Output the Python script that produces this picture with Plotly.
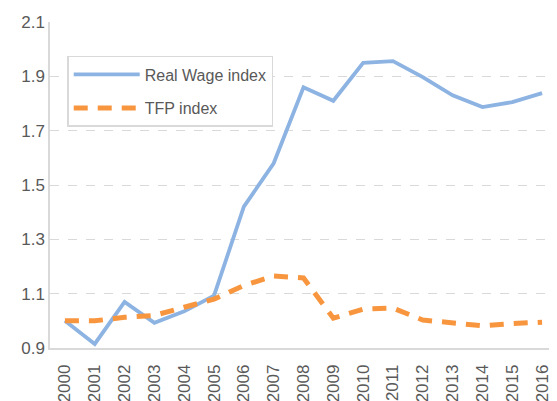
import plotly.graph_objects as go

years = [str(y) for y in range(2000, 2017)]
real_wage = [1.0, 0.915, 1.07, 0.993, 1.035, 1.093, 1.42, 1.58, 1.86, 1.81, 1.95, 1.956, 1.897, 1.83, 1.787, 1.805, 1.838]
tfp = [1.0, 1.0, 1.013, 1.02, 1.05, 1.08, 1.13, 1.165, 1.158, 1.01, 1.043, 1.047, 1.003, 0.992, 0.982, 0.99, 0.995]
y_ticks = [0.9, 1.1, 1.3, 1.5, 1.7, 1.9, 2.1]

FONT = "Liberation Sans Narrow, Arial Narrow, Liberation Sans, sans-serif"
GRAY = "#595959"

fig = go.Figure()
fig.add_trace(go.Scatter(x=years, y=real_wage, mode="lines", name="Real Wage index",
                         legendgroup="a",
                         line=dict(color="#8DB3E2", width=3.8)))
fig.add_trace(go.Scatter(x=years, y=tfp, mode="lines", name="TFP index",
                         legendgroup="b",
                         line=dict(color="#F8963F", width=5, dash="14px,10px")))

# page body has an 8px default margin; margins compensate so the plot area
# sits at x 50..557, y 22..348 in the window
fig.update_layout(
    width=557, height=401,
    margin=dict(l=42, r=8, t=14, b=61, autoexpand=False),
    paper_bgcolor="white", plot_bgcolor="white",
    font=dict(family=FONT, color=GRAY, size=16),
    showlegend=True,
    legend=dict(x=0.034, y=0.896, xanchor="left", yanchor="top",
                bordercolor="#D9D9D9", borderwidth=1.5, bgcolor="white",
                font=dict(size=16, color=GRAY), tracegroupgap=10,
                itemwidth=66),
    xaxis=dict(type="category", range=[-0.5, 16.5], tickangle=-90, automargin=False,
               showgrid=False, showline=True, linecolor="#D9D9D9", linewidth=1.5,
               ticks="", ticklabelstandoff=8, tickfont=dict(size=17, color=GRAY)),
    yaxis=dict(range=[0.9, 2.1], tickvals=y_ticks, ticktext=[f"{v:.1f}" for v in y_ticks],
               automargin=False,
               showgrid=True, gridcolor="#D9D9D9", griddash="dash", gridwidth=1,
               showline=True, linecolor="#D9D9D9", linewidth=1.5, zeroline=False,
               ticks="", tickfont=dict(size=17, color=GRAY)),
)
fig.write_html("out.html")
